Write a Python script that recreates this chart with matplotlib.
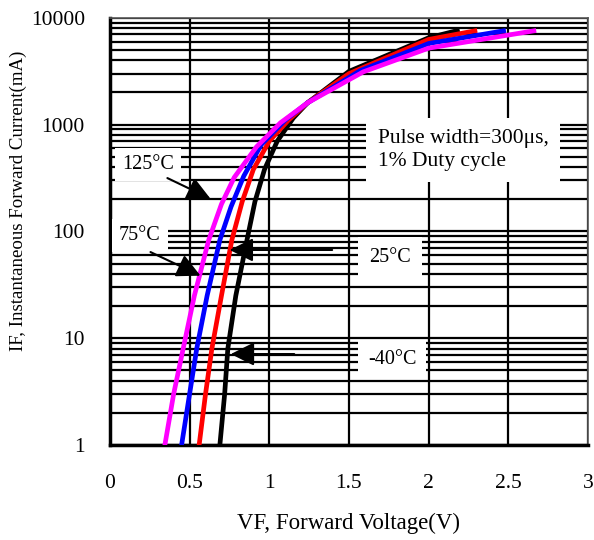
import numpy as np
import matplotlib
matplotlib.use("Agg")
import matplotlib.pyplot as plt

plt.rcParams['font.family'] = ['Liberation Serif', 'DejaVu Serif']

# forward voltage (V) / forward current (mA)
v_m40 = [0.69, 0.72, 0.74, 0.79, 0.86, 0.91, 0.97, 1.05, 1.15, 1.24, 1.5, 2.0, 2.18]
i_m40 = [1, 3, 8, 25, 83, 190, 380, 700, 1150, 1600, 3150, 6500, 7600]
v_25 = [0.56, 0.60, 0.64, 0.70, 0.765, 0.83, 0.90, 1.0, 1.12, 1.24, 1.5, 2.0, 2.29]
i_25 = [1, 3, 8, 25, 83, 190, 380, 700, 1100, 1600, 3000, 6270, 7550]
v_75 = [0.45, 0.50, 0.545, 0.61, 0.69, 0.76, 0.84, 0.95, 1.10, 1.24, 1.57, 2.0, 2.47]
i_75 = [1, 3, 8, 25, 83, 170, 330, 650, 1100, 1600, 3200, 5750, 7550]
v_125 = [0.345, 0.40, 0.46, 0.53, 0.62, 0.70, 0.78, 0.92, 1.07, 1.24, 1.59, 2.0, 2.66]
i_125 = [1, 3, 8, 25, 83, 180, 320, 620, 1040, 1600, 3120, 5200, 7550]

x_ticks = [0, 0.5, 1, 1.5, 2, 2.5, 3]
x_labels = ['0', '0.5', '1', '1.5', '2', '2.5', '3']
y_ticks = [1, 10, 100, 1000, 10000]
y_labels = ['1', '10', '100', '1000', '10000']

fig = plt.figure(figsize=(5.94, 5.4), dpi=100)
ax = fig.add_axes([0.185, 0.176, 0.805, 0.791])
ax.set_yscale('log')
ax.set_xlim(0, 3)
ax.set_ylim(1, 10000)

minor = [m * 10 ** d for d in range(4) for m in range(2, 10)]
ax.set_yticks(minor, minor=True)
ax.set_yticks(y_ticks)
ax.set_yticklabels(y_labels)
ax.set_yticklabels([], minor=True)
ax.set_xticks(x_ticks)
ax.set_xticklabels(x_labels)
ax.tick_params(axis='both', which='both', length=0, labelsize=15.5)
ax.tick_params(axis='x', pad=21)
ax.tick_params(axis='y', pad=18)
ax.grid(True, which='both', axis='y', color='black', lw=1.6)
ax.grid(True, which='major', axis='x', color='black', lw=1.6)
ax.set_axisbelow(True)

for s in ['left', 'bottom']:
    ax.spines[s].set_linewidth(2.5)
for s in ['right', 'top']:
    ax.spines[s].set_linewidth(1.2)
    ax.spines[s].set_color('#555555')

ax.plot(v_m40, i_m40, color='black', lw=3.4, zorder=5)
ax.plot(v_25, i_25, color='red', lw=3.4, zorder=5)
ax.plot(v_75, i_75, color='blue', lw=3.4, zorder=5)
ax.plot(v_125, i_125, color='magenta', lw=3.4, zorder=5)

box = dict(fc='white', ec='none', pad=5)
ax.text(0.24, 420, '125°C', fontsize=14.5, ha='center', va='center', bbox=box, zorder=3)
ax.text(0.188, 92, '75°C', fontsize=14.5, ha='center', va='center', bbox=box, zorder=3)
ax.text(1.76, 56.5, '25°C', fontsize=14.5, ha='center', va='center',
        bbox=dict(fc='white', ec='none', pad=8), zorder=3)
ax.text(1.77, 6.25, '-40°C', fontsize=14.5, ha='center', va='center',
        bbox=dict(fc='white', ec='none', pad=7), zorder=3)
ax.text(1.68, 580, 'Pulse width=300μs,\n1% Duty cycle', fontsize=15.5, ha='left', va='center',
        linespacing=1.25, bbox=dict(fc='white', ec='none', pad=8), zorder=3)

arrow = dict(arrowstyle='-|>', color='black', lw=1.5, mutation_scale=36)
ax.annotate('', xy=(0.647, 197), xytext=(0.345, 324), arrowprops=arrow, zorder=6)
ax.annotate('', xy=(0.584, 37.5), xytext=(0.239, 65.7), arrowprops=arrow, zorder=6)
ax.annotate('', xy=(0.734, 67), xytext=(1.412, 67), arrowprops=arrow, zorder=6)
ax.annotate('', xy=(0.741, 7.1), xytext=(1.174, 7.1), arrowprops=arrow, zorder=6)

ax.set_xlabel('VF, Forward Voltage(V)', fontsize=16.5, labelpad=14)
fig.text(0.031, 0.628, 'IF, Instantaneous Forward Current(mA)', fontsize=13.6,
         rotation=90, ha='center', va='center')

fig.savefig('out.png', dpi=100)
